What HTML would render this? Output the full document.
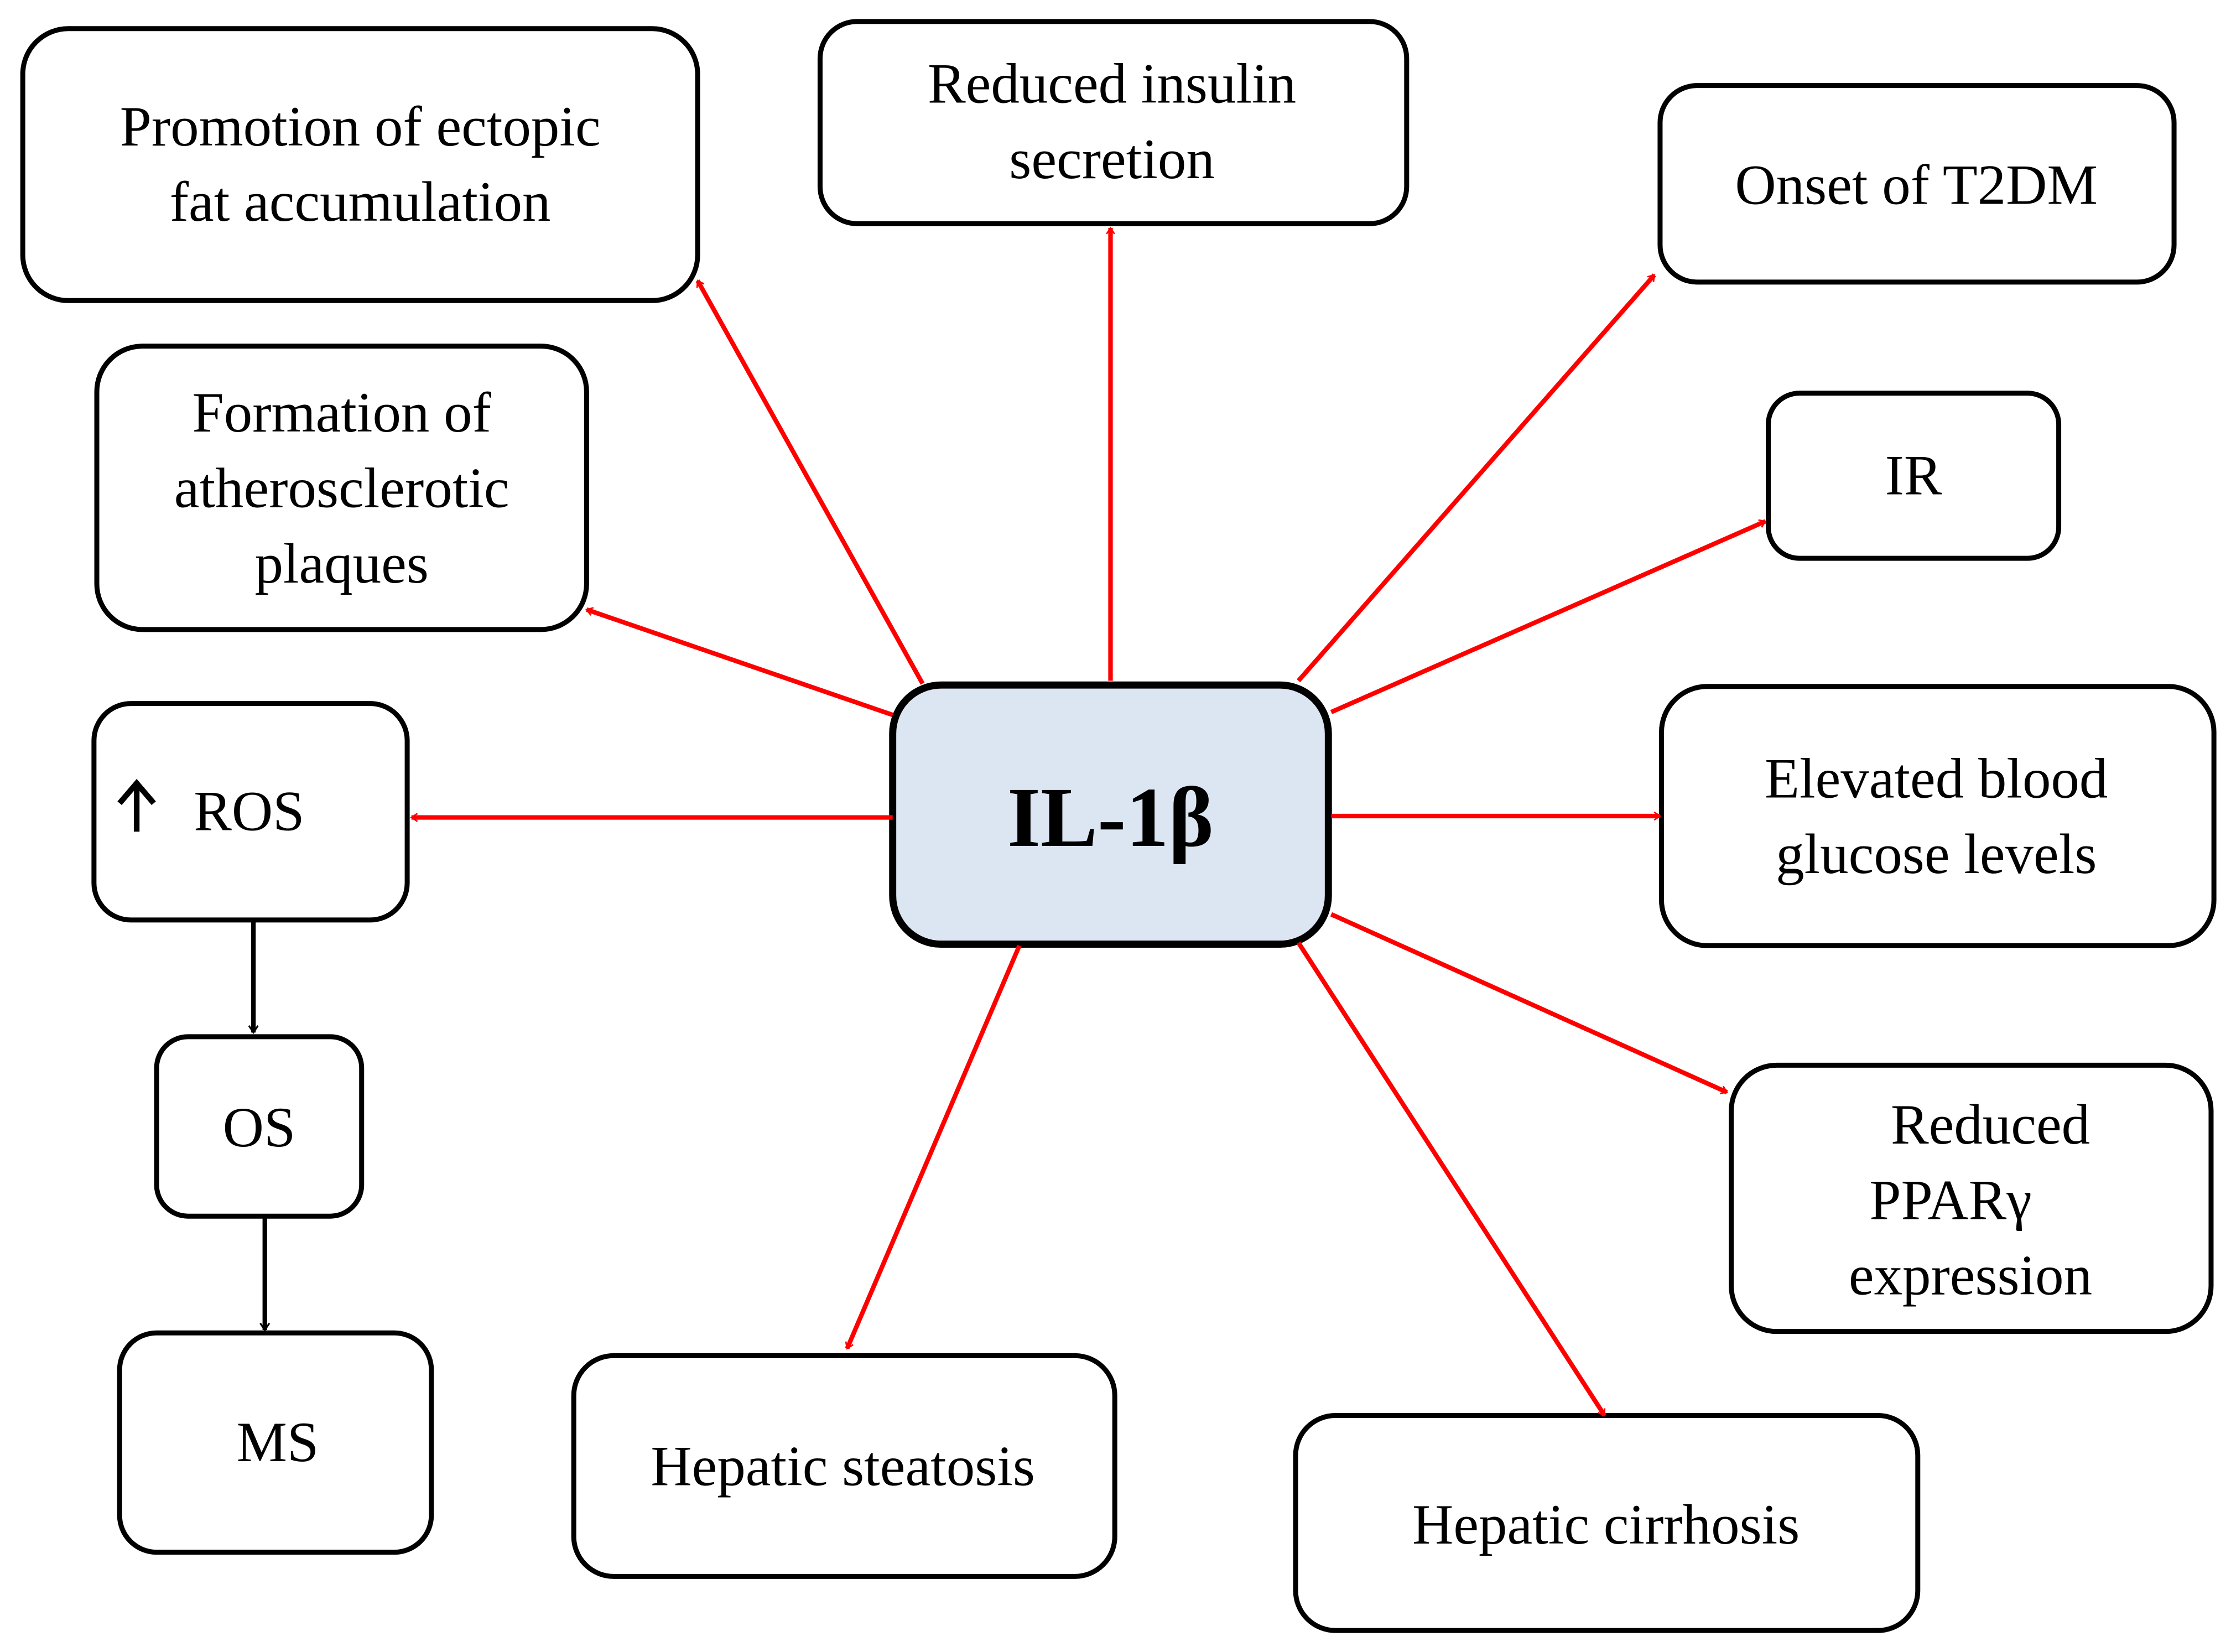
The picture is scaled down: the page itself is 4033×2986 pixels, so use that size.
<!DOCTYPE html>
<html><head><meta charset="utf-8"><style>html,body{margin:0;padding:0;background:#fff}svg{display:block}</style></head>
<body>
<svg width="4033" height="2986" viewBox="0 0 1567 1160" xmlns="http://www.w3.org/2000/svg" font-family="'Liberation Serif', serif" font-size="40">
<defs>
<marker id="r" viewBox="0 0 20 20" refX="18" refY="10" markerWidth="7" markerHeight="7" markerUnits="userSpaceOnUse" orient="auto" style="overflow:visible">
<polyline points="6,2 18,10 6,18" fill="none" stroke="#f00" stroke-width="3"/></marker>
<marker id="k" viewBox="0 0 20 20" refX="18" refY="10" markerWidth="8" markerHeight="8" markerUnits="userSpaceOnUse" orient="auto" style="overflow:visible">
<polyline points="6,2 18,10 6,18" fill="none" stroke="#000" stroke-width="3"/></marker>
</defs>
<g fill="#fff" stroke="#000" stroke-width="3.5">
<rect x="16" y="20" width="474" height="191" rx="32"/>
<rect x="576" y="15" width="412" height="142" rx="26"/>
<rect x="1166" y="60" width="361" height="138" rx="26"/>
<rect x="68" y="243" width="344" height="199" rx="32"/>
<rect x="1242" y="276" width="204" height="116" rx="22"/>
<rect x="66" y="494" width="220" height="152" rx="26"/>
<rect x="1167" y="482" width="388" height="182" rx="32"/>
<rect x="110" y="728" width="144" height="126" rx="22"/>
<rect x="1216" y="748" width="337" height="187" rx="32"/>
<rect x="84" y="936" width="219" height="154" rx="26"/>
<rect x="403" y="952" width="380" height="155" rx="28"/>
<rect x="910" y="994" width="437" height="151" rx="28"/>
<rect x="627" y="481" width="306" height="182" rx="34" fill="#dce6f2" stroke-width="5"/>
</g>
<g stroke="#f00" stroke-width="3.2" marker-end="url(#r)">
<line x1="648" y1="480" x2="490" y2="197"/>
<line x1="780" y1="478" x2="780" y2="160"/>
<line x1="912" y1="478" x2="1162" y2="193"/>
<line x1="935" y1="500" x2="1240" y2="366"/>
<line x1="935" y1="573" x2="1166" y2="573"/>
<line x1="935" y1="642" x2="1213" y2="767"/>
<line x1="912" y1="662" x2="1127" y2="994"/>
<line x1="716" y1="664" x2="595" y2="947"/>
<line x1="627" y1="574" x2="289" y2="574"/>
<line x1="627" y1="502" x2="412" y2="428"/>
</g>
<g stroke="#000" stroke-width="3.2" marker-end="url(#k)">
<line x1="178" y1="646" x2="178" y2="725"/>
<line x1="186" y1="854" x2="186" y2="934"/>
</g>
<g fill="#000" text-anchor="middle">
<text x="253" y="102">Promotion of ectopic</text>
<text x="253" y="155">fat accumulation</text>
<text x="781" y="72">Reduced insulin</text>
<text x="781" y="125">secretion</text>
<text x="1346" y="143">Onset of T2DM</text>
<text x="240" y="303">Formation of</text>
<text x="240" y="356">atherosclerotic</text>
<text x="240" y="409">plaques</text>
<text x="1344" y="347">IR</text>
<text x="175" y="583">ROS</text>
<text x="1360" y="560">Elevated blood</text>
<text x="1360" y="613">glucose levels</text>
<text x="182" y="805">OS</text>
<text x="1398" y="803">Reduced</text>
<text x="1370" y="856">PPARγ</text>
<text x="1384" y="909">expression</text>
<text x="195" y="1026">MS</text>
<text x="592" y="1043">Hepatic steatosis</text>
<text x="1128" y="1084">Hepatic cirrhosis</text>
<text x="780" y="594" font-size="60" font-weight="bold">IL-1β</text>
</g>
<g stroke="#000" stroke-width="4" fill="none">
<line x1="96" y1="584" x2="96" y2="552"/>
<polyline points="84,564 96,550 108,564"/>
</g>
</svg>
</body></html>
